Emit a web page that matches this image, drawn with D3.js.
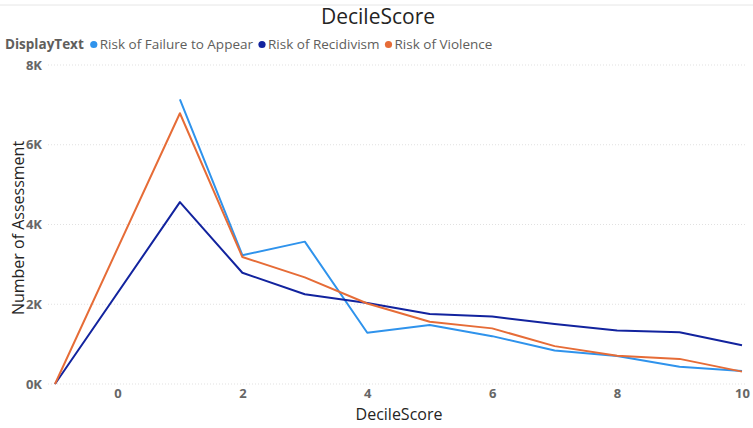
<!DOCTYPE html>
<html>
<head>
<meta charset="utf-8">
<script src="https://cdn.jsdelivr.net/npm/d3@7"></script>
<style>
  html, body { margin: 0; padding: 0; background: #fff; }
  svg { display: block; font-family: "Segoe UI", "Open Sans", "Noto Sans", sans-serif; }
</style>
</head>
<body>
<svg id="chart" width="753" height="428"></svg>
<script>
// Decile scores on the x axis
const deciles = [-1, 1, 2, 3, 4, 5, 6, 7, 8, 9, 10];

// Number of assessments per decile, per assessment type
const failureToAppear = [null, 7140, 3230, 3570, 1285, 1480, 1200, 840, 700, 435, 325];
const recidivism      = [0, 4560, 2790, 2250, 2030, 1755, 1690, 1505, 1340, 1300, 970];
const violence        = [0, 6790, 3185, 2675, 2020, 1560, 1395, 950, 710, 630, 310];

const seriesNames  = ["Risk of Failure to Appear", "Risk of Recidivism", "Risk of Violence"];
const seriesColors = ["#2f93ec", "#12239E", "#E66C37"];
const seriesValues = [failureToAppear, recidivism, violence];

const xTicks = [0, 2, 4, 6, 8, 10];
const yTicks = [0, 2000, 4000, 6000, 8000];

const svg = d3.select("#chart");
const width = 753, height = 428;

const x = d3.scaleLinear().domain([-1, 10]).range([55, 742]);
const y = d3.scaleLinear().domain([0, 8000]).range([384, 65]);

// faint top rule
svg.append("line")
  .attr("x1", 0).attr("x2", width).attr("y1", 5).attr("y2", 5)
  .attr("stroke", "#e6e6e6").attr("stroke-width", 1);

// title
svg.append("text")
  .attr("x", 378).attr("y", 24)
  .attr("text-anchor", "middle")
  .attr("font-size", 21)
  .attr("fill", "#252423")
  .text("DecileScore");

// legend
const legend = svg.append("g").attr("transform", "translate(5,49)");
const lt = legend.append("text")
  .attr("x", 0).attr("y", 0)
  .attr("font-size", 13.5).attr("font-weight", "bold").attr("fill", "#605e5c")
  .text("DisplayText");
let lx = lt.node().getComputedTextLength() + 6;
seriesNames.forEach((name, i) => {
  legend.append("circle")
    .attr("cx", lx + 4).attr("cy", -4.5).attr("r", 3.6)
    .attr("fill", seriesColors[i]);
  const t = legend.append("text")
    .attr("x", lx + 10).attr("y", 0)
    .attr("font-size", 13.5).attr("fill", "#605e5c")
    .text(name);
  lx += 10 + t.node().getComputedTextLength() + 5;
});

// horizontal gridlines
svg.append("g")
  .selectAll("line")
  .data(yTicks)
  .join("line")
  .attr("x1", 48).attr("x2", 746)
  .attr("y1", d => y(d)).attr("y2", d => y(d))
  .attr("stroke", "#e1e1e1")
  .attr("stroke-dasharray", "1,2");

// y axis
const yAxis = d3.axisLeft(y)
  .tickValues(yTicks)
  .tickFormat(d => (d / 1000) + "K")
  .tickSize(0).tickPadding(0);
svg.append("g")
  .attr("transform", "translate(42,0)")
  .call(yAxis)
  .call(g => g.select(".domain").remove())
  .call(g => g.selectAll("text")
    .attr("font-size", 13).attr("font-weight", "bold")
    .attr("fill", "#666").attr("font-family", "'Open Sans', sans-serif"));

// x axis
const xAxis = d3.axisBottom(x)
  .tickValues(xTicks)
  .tickFormat(d3.format("d"))
  .tickSize(0).tickPadding(0);
svg.append("g")
  .attr("transform", "translate(0,389)")
  .call(xAxis)
  .call(g => g.select(".domain").remove())
  .call(g => g.selectAll("text")
    .attr("font-size", 13).attr("font-weight", "bold")
    .attr("fill", "#666").attr("font-family", "'Open Sans', sans-serif"));

// axis titles
svg.append("text")
  .attr("x", 399).attr("y", 420)
  .attr("text-anchor", "middle")
  .attr("font-size", 16).attr("fill", "#252423")
  .text("DecileScore");

svg.append("text")
  .attr("transform", "translate(24,228) rotate(-90)")
  .attr("text-anchor", "middle")
  .attr("font-size", 16).attr("fill", "#252423")
  .text("Number of Assessment");

// lines
const line = d3.line()
  .defined(d => d.v != null)
  .x(d => x(d.k))
  .y(d => y(d.v));

seriesValues.forEach((vals, i) => {
  const pts = deciles.map((k, j) => ({ k, v: vals[j] }));
  svg.append("path")
    .datum(pts)
    .attr("fill", "none")
    .attr("stroke", seriesColors[i])
    .attr("stroke-width", 2)
    .attr("stroke-linejoin", "round")
    .attr("d", line);
});
</script>
</body>
</html>
